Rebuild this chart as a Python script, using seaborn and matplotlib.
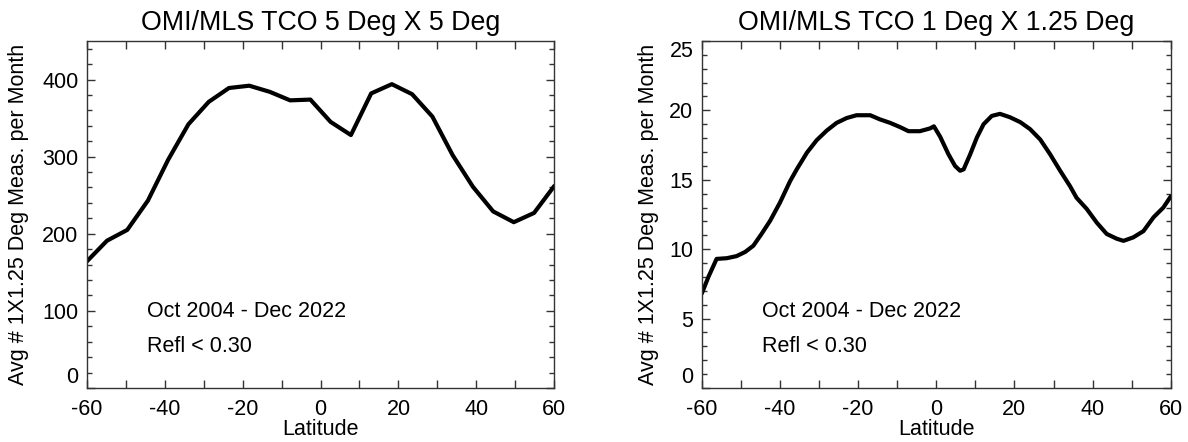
import matplotlib
matplotlib.use("Agg")
import matplotlib.pyplot as plt
from matplotlib.ticker import MultipleLocator
import pandas as pd
import seaborn as sns

# ---------------- data ----------------
lat_5x5 = [-60.0, -54.8, -49.6, -44.3, -39.1, -33.9, -28.7, -23.5, -18.3, -13.0,
           -7.8, -2.6, 2.6, 7.8, 13.0, 18.3, 23.5, 28.7, 33.9, 39.1, 44.3, 49.6,
           54.8, 60.0]
count_5x5 = [164, 191, 205, 243, 296, 342, 371, 389, 392, 384,
             373, 374, 345, 328, 382, 394, 381, 352, 302, 261, 229, 215,
             227, 262]

lat_1x125 = [-60.0, -58.3, -56.2, -53.6, -51.1, -48.9, -46.8, -44.7, -42.5, -40.0,
             -37.4, -35.7, -33.1, -30.6, -28.0, -25.5, -22.9, -20.4, -16.9, -14.4,
             -11.8, -9.3, -7.1, -4.2, -1.6, -0.6, 1.0, 3.1, 4.8, 6.1,
             7.0, 8.7, 10.4, 12.1, 14.2, 16.3, 18.9, 21.5, 24.0, 26.6,
             29.1, 31.7, 34.2, 35.9, 38.5, 41.1, 43.6, 46.2, 47.9, 50.4,
             53.0, 55.6, 58.1, 60.0]
count_1x125 = [6.8, 8.0, 9.3, 9.35, 9.5, 9.8, 10.25, 11.1, 12.05, 13.35,
               14.9, 15.75, 16.95, 17.85, 18.55, 19.1, 19.45, 19.65, 19.65, 19.35,
               19.1, 18.8, 18.5, 18.5, 18.7, 18.85, 18.1, 16.85, 16.0, 15.65,
               15.75, 16.85, 18.05, 19.0, 19.6, 19.75, 19.5, 19.15, 18.65, 17.9,
               16.85, 15.65, 14.55, 13.7, 12.9, 11.9, 11.1, 10.75, 10.6, 10.85,
               11.3, 12.3, 13.0, 13.8]

titles = ["OMI/MLS TCO 5 Deg X 5 Deg", "OMI/MLS TCO 1 Deg X 1.25 Deg"]
ylabel_text = "Avg # 1X1.25 Deg Meas. per Month"
xlabel_text = "Latitude"
period_text = "Oct 2004 - Dec 2022"
refl_text = "Refl < 0.30"

# ---------------- style ----------------
sns.set_style("ticks")
plt.rcParams["font.family"] = ["Liberation Sans", "DejaVu Sans"]
plt.rcParams["axes.unicode_minus"] = False
plt.rcParams["text.color"] = "black"
plt.rcParams["axes.labelcolor"] = "black"
plt.rcParams["xtick.color"] = "black"
plt.rcParams["ytick.color"] = "black"

fig = plt.figure(figsize=(11.88, 4.42), dpi=100)
ax_left = fig.add_axes([0.0730, 0.1222, 0.3936, 0.7851])
ax_right = fig.add_axes([0.5907, 0.1222, 0.3948, 0.7851])

df5 = pd.DataFrame({"lat": lat_5x5, "count": count_5x5})
df1 = pd.DataFrame({"lat": lat_1x125, "count": count_1x125})

panels = [
    (ax_left, df5, titles[0], (0, 450), 100, 20, -0.145),
    (ax_right, df1, titles[1], (0, 25), 5, 1, -0.113),
]

for ax, df, title, ylim, ymaj, ymin, ylab_x in panels:
    sns.lineplot(data=df, x="lat", y="count", ax=ax, color="black",
                 linewidth=3.0, estimator=None)
    ax.set_xlim(-60, 60)
    ax.set_ylim(*ylim)
    ax.xaxis.set_major_locator(MultipleLocator(20))
    ax.xaxis.set_minor_locator(MultipleLocator(10))
    ax.yaxis.set_major_locator(MultipleLocator(ymaj))
    ax.yaxis.set_minor_locator(MultipleLocator(ymin))
    ax.tick_params(which="both", direction="in", top=True, right=True,
                   color="#333333", labelsize=15.5, labelcolor="black")
    ax.tick_params(axis="y", which="major", length=6, width=1.0, pad=6)
    ax.tick_params(axis="y", which="minor", length=3.5, width=1.0)
    ax.tick_params(axis="x", which="both", length=6, width=1.0, pad=8)
    for sp in ax.spines.values():
        sp.set_color("#333333")
        sp.set_linewidth(1.0)
    ax.set_title(title, fontsize=19.3, pad=8, color="black")
    ax.set_xlabel(xlabel_text, fontsize=15.5, va="center", color="black")
    ax.xaxis.set_label_coords(0.5, -0.121)
    ax.set_ylabel(ylabel_text, fontsize=15.5, va="center", color="black")
    ax.yaxis.set_label_coords(ylab_x, 0.5)
    ax.text(0.128, 0.22, period_text, transform=ax.transAxes,
            fontsize=15.5, va="center", ha="left", color="black")
    ax.text(0.128, 0.119, refl_text, transform=ax.transAxes,
            fontsize=15.5, va="center", ha="left", color="black")

fig.canvas.draw()
for ax, df, title, ylim, ymaj, ymin, ylab_x in panels:
    for lbl, val in zip(ax.get_yticklabels(), ax.get_yticks()):
        if abs(val - ylim[0]) < 1e-9:
            lbl.set_va("bottom")
        elif abs(val - ylim[1]) < 1e-9:
            lbl.set_va("top")

fig.savefig("out.png", dpi=100)
